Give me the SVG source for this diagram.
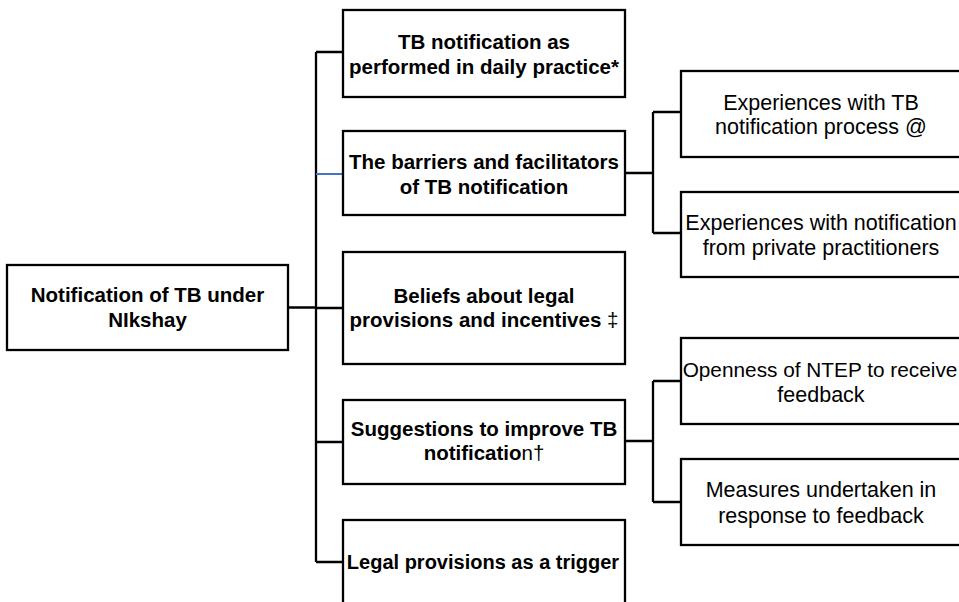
<svg xmlns="http://www.w3.org/2000/svg" width="959" height="602" viewBox="0 0 959 602">
<style>
.box{fill:#fff;stroke:#000;stroke-width:2.3}
.b{font-family:"Liberation Sans",Arial,sans-serif;font-weight:bold;font-size:20.5px;fill:#000;text-anchor:middle}
.r{font-family:"Liberation Sans",Arial,sans-serif;font-size:21.5px;fill:#000;text-anchor:middle}
.reg{font-weight:normal}
.c{fill:none;stroke:#000;stroke-width:2.3}
</style>
<rect width="959" height="602" fill="#fff"/>
<g id="connectors">
<path class="c" d="M288 307.5H316M316 52V562M316 52H343M316 308H343M316 442H343M316 562H343"/>
<path fill="none" stroke="#4472C4" stroke-width="2" d="M316 174H343"/>
<path class="c" d="M625 173H653M653 112V233M653 112H681M653 233H681"/>
<path class="c" d="M625 441H653M653 381V502M653 381H681M653 502H681"/>
</g>
<g id="root">
<rect class="box" x="7" y="265" width="281" height="85"/>
<text class="b" x="147.5" y="302">Notification of TB under</text>
<text class="b" x="147.5" y="327">NIkshay</text>
</g>
<g id="n1">
<rect class="box" x="343" y="10" width="282" height="87"/>
<text class="b" x="484" y="49">TB notification as</text>
<text class="b" x="484" y="74">performed in daily practice*</text>
</g>
<g id="n2">
<rect class="box" x="343" y="131" width="282" height="84"/>
<text class="b" x="484" y="169">The barriers and facilitators</text>
<text class="b" x="484" y="194">of TB notification</text>
</g>
<g id="n3">
<rect class="box" x="343" y="252" width="282" height="112"/>
<text class="b" x="484" y="303">Beliefs about legal</text>
<text class="b" x="484" y="327">provisions and incentives <tspan class="reg">‡</tspan></text>
</g>
<g id="n4">
<rect class="box" x="343" y="400" width="282" height="84"/>
<text class="b" x="484" y="436">Suggestions to improve TB</text>
<text class="b" x="484" y="460">notificatio<tspan class="reg">n†</tspan></text>
</g>
<g id="n5">
<rect class="box" x="343" y="520" width="282" height="90"/>
<text class="b" x="483" y="569" style="font-size:20px">Legal provisions as a trigger</text>
</g>
<g id="r1">
<rect class="box" x="681" y="71" width="285" height="86"/>
<text class="r" x="821" y="110">Experiences with TB</text>
<text class="r" x="821" y="134">notification process @</text>
</g>
<g id="r2">
<rect class="box" x="681" y="192" width="285" height="85"/>
<text class="r" x="821" y="230">Experiences with notification</text>
<text class="r" x="821" y="255">from private practitioners</text>
</g>
<g id="r3">
<rect class="box" x="681" y="338" width="285" height="86"/>
<text class="r" x="820" y="377" style="font-size:20.8px">Openness of NTEP to receive</text>
<text class="r" x="821" y="402">feedback</text>
</g>
<g id="r4">
<rect class="box" x="681" y="459" width="285" height="86"/>
<text class="r" x="821" y="497">Measures undertaken in</text>
<text class="r" x="821" y="523">response to feedback</text>
</g>
</svg>
